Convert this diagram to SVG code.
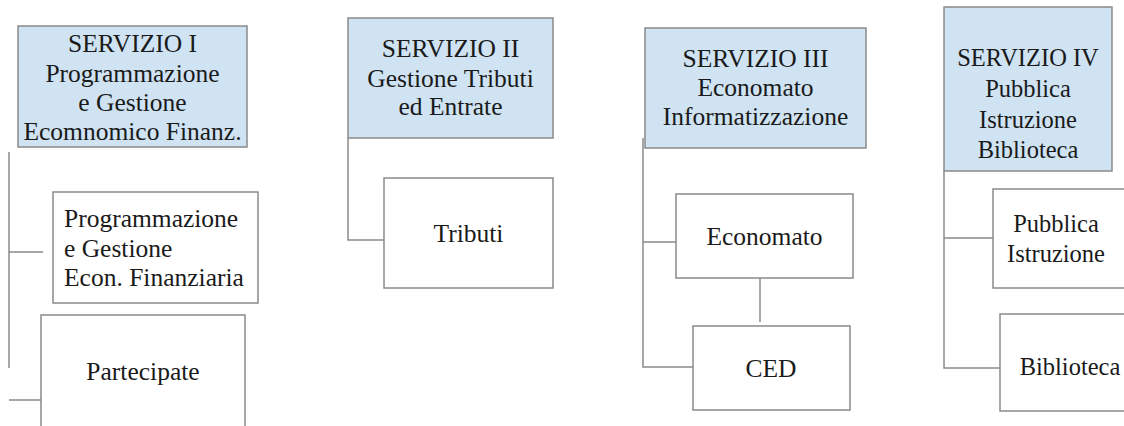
<svg xmlns="http://www.w3.org/2000/svg" width="1124" height="426" viewBox="0 0 1124 426">
<style>
.hdr{fill:#cfe3f3;stroke:#8a8a8a;stroke-width:1.5}
.box{fill:#ffffff;stroke:#8a8a8a;stroke-width:1.5}
.ln{fill:none;stroke:#8a8a8a;stroke-width:1.5}
text{font-family:"Liberation Serif","Times New Roman",serif;font-size:25.5px;fill:#1a1a1a}
.c{text-anchor:middle}
.s{font-size:24.5px}
</style>
<rect width="1124" height="426" fill="#ffffff"/>
<g id="connectors">
<path class="ln" d="M9 152V368M9 252H43M9 400H41"/>
<path class="ln" d="M348 138V240H384"/>
<path class="ln" d="M643 138V367H693M643 242H676M760 278V322"/>
<path class="ln" d="M944 171V368H1000M944 238H993"/>
</g>
<g id="servizio1">
<rect class="hdr" x="18" y="26" width="229" height="121"/>
<text class="c" x="132.5" y="52">SERVIZIO I</text>
<text class="c" x="132.5" y="82">Programmazione</text>
<text class="c" x="132.5" y="111">e Gestione</text>
<text class="c" x="132.5" y="140">Ecomnomico Finanz.</text>
</g>
<g id="programmazione">
<rect class="box" x="53" y="192" width="205" height="111"/>
<text x="64" y="227">Programmazione</text>
<text x="64" y="257">e Gestione</text>
<text x="64" y="286">Econ. Finanziaria</text>
</g>
<g id="partecipate">
<rect class="box" x="41" y="315" width="204" height="120"/>
<text class="c" x="143" y="380">Partecipate</text>
</g>
<g id="servizio2">
<rect class="hdr" x="348" y="18" width="205" height="120"/>
<text class="c" x="450.5" y="57">SERVIZIO II</text>
<text class="c" x="450.5" y="87">Gestione Tributi</text>
<text class="c" x="450.5" y="115">ed Entrate</text>
</g>
<g id="tributi">
<rect class="box" x="384" y="178" width="169" height="110"/>
<text class="c" x="468.5" y="242">Tributi</text>
</g>
<g id="servizio3">
<rect class="hdr" x="645" y="28" width="221" height="120"/>
<text class="c" x="755.5" y="67">SERVIZIO III</text>
<text class="c" x="755.5" y="96">Economato</text>
<text class="c" x="755.5" y="125">Informatizzazione</text>
</g>
<g id="economato">
<rect class="box" x="676" y="194" width="177" height="84"/>
<text class="c" x="764.5" y="245">Economato</text>
</g>
<g id="ced">
<rect class="box" x="693" y="326" width="157" height="84"/>
<text class="c" x="771" y="377">CED</text>
</g>
<g id="servizio4">
<rect class="hdr" x="944" y="7" width="168" height="164"/>
<text class="c s" x="1028" y="66">SERVIZIO IV</text>
<text class="c s" x="1028" y="97">Pubblica</text>
<text class="c s" x="1028" y="128">Istruzione</text>
<text class="c s" x="1028" y="158">Biblioteca</text>
</g>
<g id="pubblica-istruzione">
<rect class="box" x="993" y="189" width="140" height="99"/>
<text class="c s" x="1056" y="232">Pubblica</text>
<text class="c s" x="1056" y="262">Istruzione</text>
</g>
<g id="biblioteca">
<rect class="box" x="1000" y="314" width="140" height="97"/>
<text class="c s" x="1070" y="375">Biblioteca</text>
</g>
</svg>
